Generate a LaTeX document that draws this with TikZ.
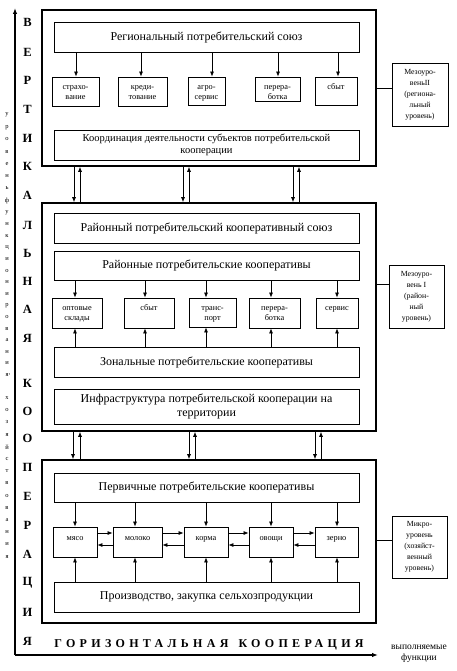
\documentclass[tikz,border=0pt]{standalone}
\usepackage{fontspec}
\setmainfont{Liberation Serif}
\usetikzlibrary{arrows.meta}
\begin{document}
\begin{tikzpicture}[x=1pt,y=-1pt,
  outerbox/.style={draw, line width=1.7pt, inner sep=0pt},
  wide/.style={draw, line width=0.8pt, minimum width=305pt, inner sep=1pt, align=center, font=\fontsize{12}{14}\selectfont},
  sbox/.style={draw, line width=0.8pt, inner sep=0pt},
  stxt/.style={anchor=north, align=center, inner sep=0pt, yshift=-7pt, font=\fontsize{8.3}{10.5}\selectfont},
  lab/.style={draw, line width=0.7pt, inner sep=0pt, align=center, font=\fontsize{7.8}{11}\selectfont},
  arr/.style={-{Latex[length=5pt,width=4pt]}, line width=0.7pt},
  axis/.style={-{Latex[length=6pt,width=4.5pt]}, line width=1.3pt},
  bigl/.style={inner sep=0pt, font=\fontsize{12.5}{14}\selectfont\bfseries},
  tinyl/.style={inner sep=0pt, font=\fontsize{6.5}{7}\selectfont},
  conn/.style={line width=0.7pt}
]
\useasboundingbox (0,0) rectangle (456,671);
\newcommand{\capst}{\vphantom{Б}}

% ---------- regional level ----------
\node[outerbox, minimum width=334pt, minimum height=156pt] (R) at (209,88) {};
\node[wide, minimum height=30pt] (rs) at (206.5,37) {Региональный потребительский союз};
\node[wide, minimum height=30pt, font=\fontsize{10.5}{12}\selectfont] (coord) at (206.5,145) {Координация деятельности субъектов потребительской\\кооперации};
\node[sbox, minimum width=47pt, minimum height=29pt, label={[stxt]north:\capst страхо-\\вание}] (s1) at (75.5,91.5) {};
\node[sbox, minimum width=49pt, minimum height=29pt, label={[stxt]north:\capst креди-\\тование}] (s2) at (142.5,91.5) {};
\node[sbox, minimum width=37pt, minimum height=28pt, label={[stxt]north:\capst агро-\\сервис}] (s3) at (206.5,91) {};
\node[sbox, minimum width=45pt, minimum height=24pt, label={[stxt]north:\capst перера-\\ботка}] (s4) at (277.5,89) {};
\node[sbox, minimum width=42pt, minimum height=28pt, label={[stxt]north:\capst сбыт}] (s5) at (336,91) {};
\draw[arr] (rs.south -| 76,0) -- (s1.north -| 76,0);
\draw[arr] (rs.south -| 141,0) -- (s2.north -| 141,0);
\draw[arr] (rs.south -| 212,0) -- (s3.north -| 212,0);
\draw[arr] (rs.south -| 278,0) -- (s4.north -| 278,0);
\draw[arr] (rs.south -| 338,0) -- (s5.north -| 338,0);
\node[lab, minimum width=56pt, minimum height=63pt] (L2) at (420,94.5) {Мезоуро-\\веньII\\(региона-\\льный\\уровень)};
\draw[conn] (R.east |- 0,88) -- (L2.west |- 0,88);

% ---------- district level ----------
\node[outerbox, minimum width=334pt, minimum height=228pt] (M) at (209,317) {};
\node[wide, minimum height=30pt] (rps) at (206.5,228) {Районный потребительский кооперативный союз};
\node[wide, minimum height=29pt] (rpk) at (206.5,265.5) {Районные потребительские кооперативы};
\node[wide, minimum height=30pt] (zpk) at (206.5,362) {Зональные потребительские кооперативы};
\node[wide, minimum height=35pt] (infra) at (206.5,406.5) {Инфраструктура потребительской кооперации на\\территории};
\node[sbox, minimum width=50pt, minimum height=30pt, label={[stxt]north:\capst оптовые\\склады}] (m1) at (77,313) {};
\node[sbox, minimum width=50pt, minimum height=30pt, label={[stxt]north:\capst сбыт}] (m2) at (149,313) {};
\node[sbox, minimum width=47pt, minimum height=29pt, label={[stxt]north:\capst транс-\\порт}] (m3) at (212.5,312.5) {};
\node[sbox, minimum width=51pt, minimum height=30pt, label={[stxt]north:\capst перера-\\ботка}] (m4) at (274.5,313) {};
\node[sbox, minimum width=42pt, minimum height=30pt, label={[stxt]north:\capst сервис}] (m5) at (337,313) {};
\foreach \i/\xx in {1/75,2/145,3/206,4/271,5/337}{
  \draw[arr] (rpk.south -| \xx,0) -- (m\i.north -| \xx,0);
  \draw[arr] (zpk.north -| \xx,0) -- (m\i.south -| \xx,0);
}
\node[lab, minimum width=55pt, minimum height=63pt] (L1) at (416.5,296.5) {Мезоуро-\\вень I\\(район-\\ный\\уровень)};
\draw[conn] (M.east |- 0,284) -- (L1.west |- 0,284);

% ---------- primary level ----------
\node[outerbox, minimum width=334pt, minimum height=163pt] (B) at (209,541.5) {};
\node[wide, minimum height=29pt] (ppk) at (206.5,487.5) {Первичные потребительские кооперативы};
\node[wide, minimum height=30pt] (prod) at (206.5,597) {Производство, закупка сельхозпродукции};
\node[sbox, minimum width=44pt, minimum height=30pt, label={[stxt,yshift=-1pt]north:\capst мясо}] (b1) at (75,542) {};
\node[sbox, minimum width=49pt, minimum height=30pt, label={[stxt,yshift=-1pt]north:\capst молоко}] (b2) at (137.5,542) {};
\node[sbox, minimum width=44pt, minimum height=30pt, label={[stxt,yshift=-1pt]north:\capst корма}] (b3) at (206,542) {};
\node[sbox, minimum width=44pt, minimum height=30pt, label={[stxt,yshift=-1pt]north:\capst овощи}] (b4) at (271,542) {};
\node[sbox, minimum width=43pt, minimum height=30pt, label={[stxt,yshift=-1pt]north:\capst зерно}] (b5) at (336.5,542) {};
\foreach \i/\xx in {1/75,2/135,3/206,4/271,5/337}{
  \draw[arr] (ppk.south -| \xx,0) -- (b\i.north -| \xx,0);
  \draw[arr] (prod.north -| \xx,0) -- (b\i.south -| \xx,0);
}
\foreach \i/\j in {1/2,2/3,3/4,4/5}{
  \draw[arr] (b\i.east |- 0,533) -- (b\j.west |- 0,533);
  \draw[arr] (b\j.west |- 0,545) -- (b\i.east |- 0,545);
}
\node[lab, minimum width=55pt, minimum height=62pt] (L0) at (419.5,547) {Микро-\\уровень\\(хозяйст-\\венный\\уровень)};
\draw[conn] (B.east |- 0,540) -- (L0.west |- 0,540);

% ---------- links between levels ----------
\foreach \a/\b in {74/80,183/189,293/299}{
  \draw[arr] (R.south -| \a,0) -- (M.north -| \a,0);
  \draw[arr] (M.north -| \b,0) -- (R.south -| \b,0);
}
\foreach \a/\b in {73/80,189/195,315/321}{
  \draw[arr] (M.south -| \a,0) -- (B.north -| \a,0);
  \draw[arr] (B.north -| \b,0) -- (M.south -| \b,0);
}

% ---------- axes ----------
\coordinate (O) at (15,655);
\coordinate (Ytop) at (15,8);
\coordinate (Xend) at (378,655);
\draw[axis] (O) -- (Ytop);
\draw[axis] (O) -- (Xend);

% vertical big letters
\foreach \l/\yy [count=\k] in {В/22,Е/52,Р/80,Т/109,И/138,К/166,А/195,Л/225,Ь/253,Н/281,А/309,Я/338,К/383,О/411,О/438,П/467,Е/496,Р/525,А/554,Ц/583,И/612,Я/641}{
  \node[bigl] (v\k) at (27.5,\yy) {\l};
}
% small stacked letters
\foreach \l [count=\k] in {у,р,о,в,е,н,ь}{
  \node[tinyl] (a\k) at (7,{115+12.2*(\k-1)}) {\l};
}
\foreach \l [count=\k] in {ф,у,н,к,ц,и,о,н,и,р,о,в,а,н,и,я}{
  \node[tinyl] (f\k) at (7,{201+11.6*(\k-1)}) {\l};
}
\node[tinyl, anchor=west] (comma) at (f16.east) {,};
\foreach \l [count=\k] in {х,о,з,я,й,с,т,в,о,в,а,н,и,я}{
  \node[tinyl] (h\k) at (7,{398+12.2*(\k-1)}) {\l};
}

% horizontal label
\node[inner sep=0pt, font=\fontsize{12}{14}\selectfont\bfseries\addfontfeature{LetterSpace=36}] (hor) at (209,645) {ГОРИЗОНТАЛЬНАЯ\hspace{10pt}КООПЕРАЦИЯ};
\node[inner sep=0pt, align=center, font=\fontsize{9.5}{10.5}\selectfont] (func) at (419,654) {выполняемые\\функции};
\end{tikzpicture}
\end{document}
